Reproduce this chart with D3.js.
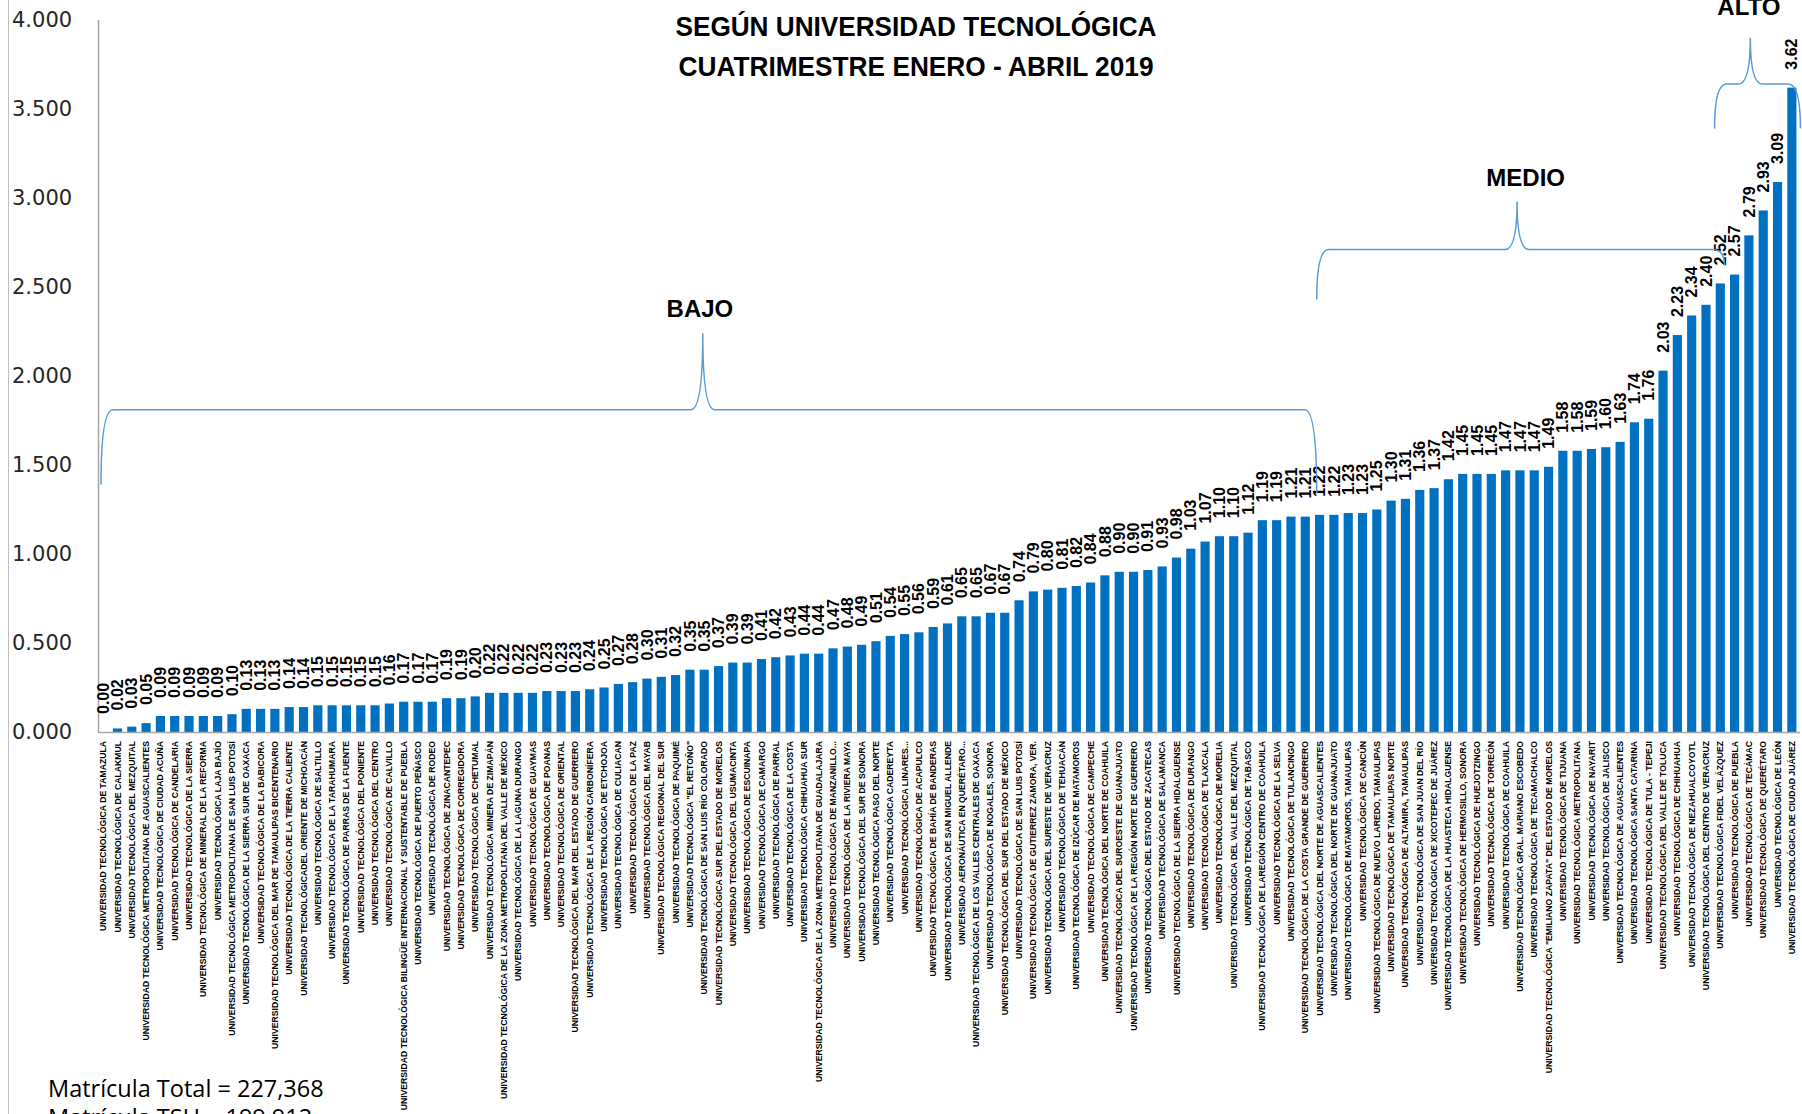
<!DOCTYPE html>
<html>
<head>
<meta charset="utf-8">
<script src="https://d3js.org/d3.v7.min.js"></script>
<style>
  body { margin: 0; background: #fff; }
  svg { display: block; }
  text { font-family: "Liberation Sans", Arial, sans-serif; }
</style>
</head>
<body>
<div id="chart"></div>
<script>
// universidades tecnologicas, ordenadas de menor a mayor
const universidades = [
  "UNIVERSIDAD TECNOLÓGICA DE TAMAZULA",
  "UNIVERSIDAD TECNOLÓGICA DE CALAKMUL",
  "UNIVERSIDAD TECNOLÓGICA DEL MEZQUITAL",
  "UNIVERSIDAD TECNOLÓGICA METROPOLITANA DE AGUASCALIENTES",
  "UNIVERSIDAD TECNOLÓGICA DE CIUDAD ACUÑA",
  "UNIVERSIDAD TECNOLÓGICA DE CANDELARIA",
  "UNIVERSIDAD TECNOLÓGICA DE LA SIERRA",
  "UNIVERSIDAD TECNOLÓGICA DE MINERAL DE LA REFORMA",
  "UNIVERSIDAD TECNOLÓGICA LAJA BAJÍO",
  "UNIVERSIDAD TECNOLÓGICA METROPOLITANA DE  SAN LUIS POTOSÍ",
  "UNIVERSIDAD TECNOLÓGICA DE LA SIERRA SUR DE OAXACA",
  "UNIVERSIDAD TECNOLÓGICA DE LA BABICORA",
  "UNIVERSIDAD TECNOLÓGICA DEL MAR DE TAMAULIPAS BICENTENARIO",
  "UNIVERSIDAD TECNOLÓGICA DE LA TIERRA CALIENTE",
  "UNIVERSIDAD TECNOLÓGICADEL ORIENTE DE MICHOACÁN",
  "UNIVERSIDAD TECNOLÓGICA DE SALTILLO",
  "UNIVERSIDAD TECNOLÓGICA DE LA TARAHUMARA",
  "UNIVERSIDAD TECNOLÓGICA DE PARRAS DE LA FUENTE",
  "UNIVERSIDAD TECNOLÓGICA DEL PONIENTE",
  "UNIVERSIDAD TECNOLÓGICA DEL CENTRO",
  "UNIVERSIDAD TECNOLÓGICA DE CALVILLO",
  "UNIVERSIDAD TECNOLÓGICA BILINGÜE INTERNACIONAL Y SUSTENTABLE DE PUEBLA",
  "UNIVERSIDAD TECNOLÓGICA DE PUERTO PEÑASCO",
  "UNIVERSIDAD TECNOLÓGICA DE RODEO",
  "UNIVERSIDAD TECNOLÓGICA DE ZINACANTEPEC",
  "UNIVERSIDAD TECNOLÓGICA DE CORREGIDORA",
  "UNIVERSIDAD TECNOLÓGICA DE CHETUMAL",
  "UNIVERSIDAD TECNOLÓGICA MINERA DE ZIMAPÁN",
  "UNIVERSIDAD TECNOLÓGICA DE LA ZONA METROPOLITANA DEL VALLE DE MÉXICO",
  "UNIVERSIDAD TECNOLÓGICA DE LA LAGUNA DURANGO",
  "UNIVERSIDAD TECNOLÓGICA DE GUAYMAS",
  "UNIVERSIDAD TECNOLÓGICA DE POANAS",
  "UNIVERSIDAD TECNOLÓGICA DE ORIENTAL",
  "UNIVERSIDAD TECNOLÓGICA DEL MAR DEL ESTADO DE GUERRERO",
  "UNIVERSIDAD TECNOLÓGICA DE LA REGIÓN CARBONÍFERA",
  "UNIVERSIDAD TECNOLÓGICA DE ETCHOJOA",
  "UNIVERSIDAD TECNOLÓGICA DE CULIACAN",
  "UNIVERSIDAD TECNOLÓGICA DE LA PAZ",
  "UNIVERSIDAD TECNOLÓGICA DEL MAYAB",
  "UNIVERSIDAD TECNOLÓGICA REGIONAL DEL SUR",
  "UNIVERSIDAD TECNOLÓGICA DE PAQUIMÉ",
  "UNIVERSIDAD TECNOLÓGICA \"EL RETOÑO\"",
  "UNIVERSIDAD TECNOLÓGICA DE SAN LUIS RÍO COLORADO",
  "UNIVERSIDAD TECNOLÓGICA SUR DEL ESTADO DE MORELOS",
  "UNIVERSIDAD TECNOLÓGICA DEL USUMACINTA",
  "UNIVERSIDAD TECNOLÓGICA DE ESCUINAPA",
  "UNIVERSIDAD TECNOLÓGICA DE CAMARGO",
  "UNIVERSIDAD TECNOLÓGICA DE PARRAL",
  "UNIVERSIDAD TECNOLÓGICA DE LA COSTA",
  "UNIVERSIDAD TECNOLÓGICA CHIHUAHUA SUR",
  "UNIVERSIDAD TECNOLÓGICA DE LA ZONA METROPOLITANA DE GUADALAJARA",
  "UNIVERSIDAD TECNOLÓGICA DE MANZANILLO...",
  "UNIVERSIDAD TECNOLÓGICA DE LA RIVIERA MAYA",
  "UNIVERSIDAD TECNOLÓGICA DEL SUR DE SONORA",
  "UNIVERSIDAD TECNOLÓGICA PASO DEL NORTE",
  "UNIVERSIDAD TECNOLÓGICA CADEREYTA",
  "UNIVERSIDAD TECNOLÓGICA LINARES...",
  "UNIVERSIDAD TECNOLÓGICA DE ACAPULCO",
  "UNIVERSIDAD TECNOLÓGICA DE BAHÍA DE BANDERAS",
  "UNIVERSIDAD TECNOLÓGICA DE SAN MIGUEL ALLENDE",
  "UNIVERSIDAD AERONÁUTICA EN QUERÉTARO...",
  "UNIVERSIDAD TECNOLÓGICA DE LOS VALLES CENTRALES DE OAXACA",
  "UNIVERSIDAD TECNOLÓGICA DE NOGALES, SONORA",
  "UNIVERSIDAD TECNOLÓGICA DEL SUR DEL ESTADO DE MÉXICO",
  "UNIVERSIDAD TECNOLÓGICA DE SAN LUIS POTOSÍ",
  "UNIVERSIDAD TECNOLÓGICA DE GUTIERREZ ZAMORA, VER.",
  "UNIVERSIDAD TECNOLÓGICA DEL SURESTE DE VERACRUZ",
  "UNIVERSIDAD TECNOLÓGICA DE TEHUACÁN",
  "UNIVERSIDAD TECNOLÓGICA DE IZÚCAR DE MATAMOROS",
  "UNIVERSIDAD TECNOLÓGICA DE CAMPECHE",
  "UNIVERSIDAD TECNOLÓGICA DEL NORTE DE COAHUILA",
  "UNIVERSIDAD TECNOLÓGICA DEL SUROESTE DE GUANAJUATO",
  "UNIVERSIDAD TECNOLÓGICA DE LA REGIÓN NORTE DE GUERRERO",
  "UNIVERSIDAD TECNOLÓGICA DEL ESTADO DE ZACATECAS",
  "UNIVERSIDAD TECNOLÓGICA DE SALAMANCA",
  "UNIVERSIDAD TECNOLÓGICA DE LA SIERRA HIDALGUENSE",
  "UNIVERSIDAD TECNOLÓGICA DE DURANGO",
  "UNIVERSIDAD TECNOLÓGICA DE TLAXCALA",
  "UNIVERSIDAD TECNOLÓGICA DE MORELIA",
  "UNIVERSIDAD TECNOLÓGICA DEL VALLE DEL MEZQUITAL",
  "UNIVERSIDAD TECNOLÓGICA DE TABASCO",
  "UNIVERSIDAD TECNOLÓGICA DE LAREGIÓN CENTRO DE COAHUILA",
  "UNIVERSIDAD TECNOLÓGICA DE LA SELVA",
  "UNIVERSIDAD TECNOLÓGICA DE TULANCINGO",
  "UNIVERSIDAD TECNOLÓGICA DE LA COSTA GRANDE DE GUERRERO",
  "UNIVERSIDAD TECNOLÓGICA DEL NORTE DE AGUASCALIENTES",
  "UNIVERSIDAD TECNOLÓGICA DEL NORTE DE GUANAJUATO",
  "UNIVERSIDAD TECNOLÓGICA DE MATAMOROS, TAMAULIPAS",
  "UNIVERSIDAD TECNOLÓGICA DE CANCÚN",
  "UNIVERSIDAD TECNOLÓGICA DE NUEVO LAREDO, TAMAULIPAS",
  "UNIVERSIDAD TECNOLÓGICA DE TAMAULIPAS NORTE",
  "UNIVERSIDAD TECNOLÓGICA DE ALTAMIRA, TAMAULIPAS",
  "UNIVERSIDAD TECNOLÓGICA DE SAN JUAN DEL RÍO",
  "UNIVERSIDAD TECNOLÓGICA DE XICOTEPEC DE JUÁREZ",
  "UNIVERSIDAD TECNOLÓGICA DE LA HUASTECA HIDALGUENSE",
  "UNIVERSIDAD TECNOLÓGICA DE HERMOSILLO, SONORA",
  "UNIVERSIDAD TECNOLÓGICA DE HUEJOTZINGO",
  "UNIVERSIDAD TECNOLÓGICA DE TORREÓN",
  "UNIVERSIDAD TECNOLÓGICA DE COAHUILA",
  "UNIVERSIDAD TECNOLÓGICA GRAL. MARIANO ESCOBEDO",
  "UNIVERSIDAD TECNOLÓGICA DE TECAMACHALCO",
  "UNIVERSIDAD TECNOLÓGICA \"EMILIANO ZAPATA\" DEL ESTADO DE MORELOS",
  "UNIVERSIDAD TECNOLÓGICA DE TIJUANA",
  "UNIVERSIDAD TECNOLÓGICA METROPOLITANA",
  "UNIVERSIDAD TECNOLÓGICA DE NAYARIT",
  "UNIVERSIDAD TECNOLÓGICA DE JALISCO",
  "UNIVERSIDAD TECNOLÓGICA DE AGUASCALIENTES",
  "UNIVERSIDAD TECNOLÓGICA SANTA CATARINA",
  "UNIVERSIDAD TECNOLÓGICA DE TULA - TEPEJI",
  "UNIVERSIDAD TECNOLÓGICA DEL VALLE DE TOLUCA",
  "UNIVERSIDAD TECNOLÓGICA DE CHIHUAHUA",
  "UNIVERSIDAD TECNOLÓGICA DE NEZAHUALCOYOTL",
  "UNIVERSIDAD TECNOLÓGICA DEL CENTRO DE VERACRUZ",
  "UNIVERSIDAD TECNOLÓGICA FIDEL VELÁZQUEZ",
  "UNIVERSIDAD TECNOLÓGICA DE PUEBLA",
  "UNIVERSIDAD TECNOLÓGICA DE TECÁMAC",
  "UNIVERSIDAD TECNOLÓGICA DE QUERÉTARO",
  "UNIVERSIDAD TECNOLÓGICA DE LEÓN",
  "UNIVERSIDAD TECNOLÓGICA DE CIUDAD JUÁREZ"
];

// valor por universidad (mismo orden)
const valores = [
  0.00, 0.02, 0.03, 0.05, 0.09, 0.09, 0.09, 0.09, 0.09, 0.10,
  0.13, 0.13, 0.13, 0.14, 0.14, 0.15, 0.15, 0.15, 0.15, 0.15,
  0.16, 0.17, 0.17, 0.17, 0.19, 0.19, 0.20, 0.22, 0.22, 0.22,
  0.22, 0.23, 0.23, 0.23, 0.24, 0.25, 0.27, 0.28, 0.30, 0.31,
  0.32, 0.35, 0.35, 0.37, 0.39, 0.39, 0.41, 0.42, 0.43, 0.44,
  0.44, 0.47, 0.48, 0.49, 0.51, 0.54, 0.55, 0.56, 0.59, 0.61,
  0.65, 0.65, 0.67, 0.67, 0.74, 0.79, 0.80, 0.81, 0.82, 0.84,
  0.88, 0.90, 0.90, 0.91, 0.93, 0.98, 1.03, 1.07, 1.10, 1.10,
  1.12, 1.19, 1.19, 1.21, 1.21, 1.22, 1.22, 1.23, 1.23, 1.25,
  1.30, 1.31, 1.36, 1.37, 1.42, 1.45, 1.45, 1.45, 1.47, 1.47,
  1.47, 1.49, 1.58, 1.58, 1.59, 1.60, 1.63, 1.74, 1.76, 2.03,
  2.23, 2.34, 2.40, 2.52, 2.57, 2.79, 2.93, 3.09, 3.62
];

const yTicks = [0, 0.5, 1, 1.5, 2, 2.5, 3, 3.5, 4];

// grupos (llaves): posiciones en unidades de barra, alturas en unidades del eje
const grupos = ["BAJO", "MEDIO", "ALTO"];
const grupoDesde = [-0.15, 84.8, 112.6];
const grupoHasta = [84.8, 113.3, 118.6];
const grupoCentro = [41.9, 98.8, 115.1];
const grupoTextoX = [41.7, 99.4, 115.0];
const grupoPico = [2.24, 2.98, 3.90];
const grupoLinea = [1.81, 2.71, 3.64];
const grupoFinIzq = [1.39, 2.43, 3.39];
const grupoFinDer = [1.34, 2.62, 3.39];
const grupoTexto = [2.33, 3.07, 4.03];

const titulo = ["SEGÚN UNIVERSIDAD TECNOLÓGICA", "CUATRIMESTRE ENERO - ABRIL 2019"];
const notas = ["Matrícula Total = 227,368", "Matrícula TSU = 199,912"];

const width = 1802, height = 1114;

const svg = d3.select('#chart').append('svg')
    .attr('width', width)
    .attr('height', height);

const x = d3.scaleBand()
    .domain(d3.range(universidades.length))
    .range([96, 1799])
    .paddingInner(0.36)
    .paddingOuter(0.18);

const y = d3.scaleLinear()
    .domain([0, 4])
    .range([732, 20]);

// posicion continua en unidades de barra (para las llaves)
const xPos = i => x.range()[0] + x.step() * (i + 0.5);

// linea gris del borde izquierdo
svg.append('line')
    .attr('x1', 8.5).attr('x2', 8.5)
    .attr('y1', 0).attr('y2', height)
    .attr('stroke', '#BFBFBF');

// eje y
const yAxis = svg.append('g')
    .attr('transform', 'translate(98,0)')
    .call(d3.axisLeft(y).tickValues(yTicks).tickFormat(d3.format('.3f')).tickSize(0));
yAxis.select('.domain').remove();
yAxis.selectAll('text')
    .attr('x', -86)
    .attr('text-anchor', 'start')
    .attr('fill', '#262626')
    .style('font-family', '"DejaVu Sans", Verdana, sans-serif')
    .style('font-size', '21px');

svg.append('line')
    .attr('x1', 98.5).attr('x2', 98.5)
    .attr('y1', y(4)).attr('y2', y(0))
    .attr('stroke', '#A6A6A6').attr('stroke-width', 1.5);

// barras
svg.selectAll('.bar')
    .data(valores)
    .enter().append('rect')
    .attr('class', 'bar')
    .attr('x', (d, i) => x(i))
    .attr('width', x.bandwidth())
    .attr('y', d => y(d))
    .attr('height', d => y(0) - y(d))
    .attr('fill', '#0070C0');

// eje x
svg.append('line')
    .attr('x1', 98).attr('x2', 1800)
    .attr('y1', y(0) + 0.5).attr('y2', y(0) + 0.5)
    .attr('stroke', '#A6A6A6').attr('stroke-width', 1.5);

// etiquetas de valor
svg.selectAll('.val')
    .data(valores)
    .enter().append('text')
    .attr('class', 'val')
    .attr('transform', (d, i) => 'translate(' + (x(i) + x.bandwidth() / 2) + ',' + (y(d) - 18) + ') rotate(-90)')
    .attr('dy', '0.35em')
    .attr('text-anchor', 'start')
    .style('font-size', '16px')
    .style('font-weight', 'bold')
    .attr('fill', '#000')
    .text(d => d3.format('.2f')(d));

// etiquetas de categoria
const cats = svg.selectAll('.cat')
    .data(universidades)
    .enter().append('text')
    .attr('class', 'cat')
    .attr('transform', (d, i) => 'translate(' + (x(i) + x.bandwidth() / 2) + ',741) rotate(-90)')
    .attr('dy', '0.35em')
    .attr('text-anchor', 'end')
    .style('font-weight', 'bold')
    .style('font-size', '10px')
    .attr('fill', '#000')
    .text(d => d);

// ajustar tamaño: la etiqueta mas larga mide ~370px
const largo = cats.filter((d, i) => i === 21).node().getComputedTextLength();
cats.style('font-size', (10 * 370 / largo) + 'px');

// llaves
grupos.forEach(function(g, k) {
    const x0 = xPos(grupoDesde[k]), x1 = xPos(grupoHasta[k]);
    const xm = xPos(grupoCentro[k]);
    const yl = y(grupoLinea[k]), yp = y(grupoPico[k]);
    const ya = y(grupoFinIzq[k]), yb = y(grupoFinDer[k]);
    const r = Math.min(12, (x1 - x0) / 6);
    const path = d3.path();
    path.moveTo(x0, ya);
    path.quadraticCurveTo(x0, yl, x0 + r, yl);
    path.lineTo(xm - r, yl);
    path.quadraticCurveTo(xm, yl, xm, yp);
    path.quadraticCurveTo(xm, yl, xm + r, yl);
    path.lineTo(x1 - r, yl);
    path.quadraticCurveTo(x1, yl, x1, yb);
    svg.append('path')
        .attr('d', path.toString())
        .attr('fill', 'none')
        .attr('stroke', '#5B9BD5')
        .attr('stroke-width', 1.5);

    svg.append('text')
        .attr('x', xPos(grupoTextoX[k]))
        .attr('y', y(grupoTexto[k]))
        .attr('text-anchor', 'middle')
        .style('font-size', '24px')
        .style('font-weight', 'bold')
        .attr('fill', '#000')
        .text(g);
});

// titulo
titulo.forEach(function(t, i) {
    svg.append('text')
        .attr('x', 916)
        .attr('y', 36 + i * 40)
        .attr('text-anchor', 'middle')
        .attr('textLength', i === 0 ? 481 : 475)
        .attr('lengthAdjust', 'spacingAndGlyphs')
        .style('font-size', '28px')
        .style('font-weight', 'bold')
        .attr('fill', '#000')
        .text(t);
});

// notas al pie (la segunda queda cortada por el borde, como en el original)
notas.forEach(function(t, i) {
    svg.append('text')
        .attr('x', 48)
        .attr('y', 1097 + i * 29)
        .style('font-family', '"Open Sans", sans-serif')
        .style('font-size', '23.5px')
        .attr('fill', '#000')
        .text(t);
});
</script>
</body>
</html>
